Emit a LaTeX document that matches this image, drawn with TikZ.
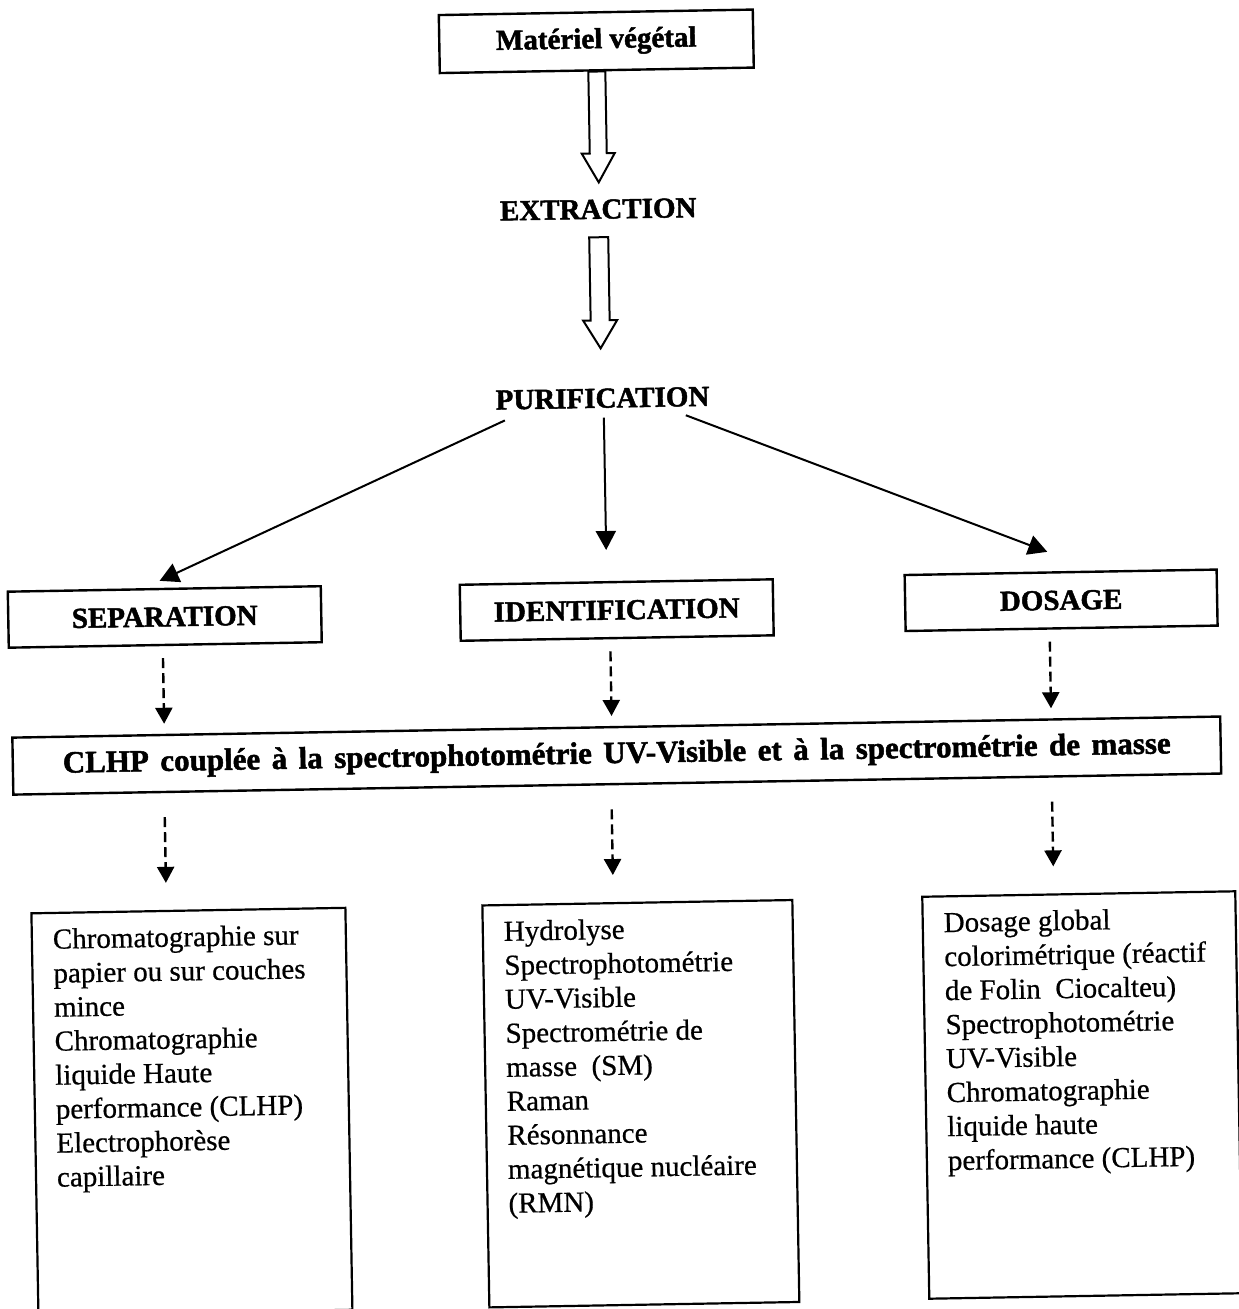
\documentclass[tikz,border=0pt]{standalone}
\usepackage{fontspec}
\setmainfont{Liberation Serif}[FakeBold=0.6, BoldFeatures={FakeBold=1.6}]
\usetikzlibrary{arrows.meta,calc}
\begin{document}
\begin{tikzpicture}[x=1pt,y=-1pt,
  boxb/.style={draw, line width=2.4pt, inner sep=0pt, minimum height=56pt,
    font=\bfseries\fontsize{29}{34}\selectfont},
  lbl/.style={inner sep=0pt, font=\bfseries\fontsize{29}{34}\selectfont},
  listbox/.style={draw, line width=2.2pt, inner xsep=21pt, inner ysep=12pt,
    font=\fontsize{29}{34}\selectfont},
  arr/.style={line width=2pt, -{Triangle[length=19pt,width=20pt]}},
  dasharr/.style={line width=2.4pt, dash pattern=on 10pt off 5pt,
    -{Triangle[length=16pt,width=17pt]}},
  hollow/.style={draw, line width=2pt, line join=miter}]
\newcommand\hollowarr[5]{%
  \draw[hollow] let \p1=#1, \p2=#2 in
    (\x1-#3,\y1) -- (\x1-#3,\y2+#5) -- (\x1-#4,\y2+#5) -- (\x1,\y2)
    -- (\x1+#4,\y2+#5) -- (\x1+#3,\y2+#5) -- (\x1+#3,\y1) -- cycle;}
\fill[white] (0,0) rectangle (1239,1309);
\useasboundingbox (0,0) rectangle (1239,1309);
\begin{scope}
\clip (0,0) rectangle (1239,1309);
\begin{scope}[transform canvas={rotate around={1:(620,655)}}]
  % top part
  \node[boxb, minimum width=314pt, minimum height=58pt] (mat) at (607,41) {Matériel végétal};
  \node[lbl] (ext) at (606,209) {EXTRACTION};
  \node[lbl] (pur) at (607,398) {PURIFICATION};
  \hollowarr{(mat.south)}{([yshift=17pt]ext.north)}{8.5pt}{16.5pt}{29pt}
  \hollowarr{([yshift=-18pt]ext.south)}{([yshift=40pt]pur.north)}{9.5pt}{17pt}{28pt}
  % second row
  \node[boxb, minimum width=313pt] (sep) at (165.5,609) {SEPARATION};
  \node[boxb, minimum width=313pt] (ide) at (617.5,610) {IDENTIFICATION};
  \node[boxb, minimum width=312pt] (dos) at (1062,608) {DOSAGE};
  \draw[arr] ([xshift=-98pt,yshift=-10.5pt]pur.south) -- ([xshift=-4.5pt,yshift=7pt]sep.north);
  \draw[arr] ([xshift=1pt,yshift=-9.5pt]pur.south) -- ([xshift=-9.5pt,yshift=31pt]ide.north);
  \draw[arr] ([xshift=83pt,yshift=-8.5pt]pur.south) -- ([xshift=-13pt,yshift=19.5pt]dos.north);
  % CLHP
  \node[boxb, minimum width=1208pt, minimum height=57pt, font=\bfseries\fontsize{31}{34}\selectfont]
    (clhp) at (615,755.5)
    {\makebox[1108pt][s]{CLHP couplée à la spectrophotométrie UV-Visible et à la spectrométrie de masse}};
  \draw[dasharr] ($(sep.south)+(-2.5,12)$) -- ($(sep.south |- clhp.north)+(-2.5,-10)$);
  \draw[dasharr] ($(ide.south)+(-7,12)$) -- ($(ide.south |- clhp.north)+(-7,-10)$);
  \draw[dasharr] ($(dos.south)+(-12,12)$) -- ($(dos.south |- clhp.north)+(-12,-10)$);
  % bottom boxes
  \node[listbox] (b1) at (184,1104) {\parbox[t][378pt][t]{272pt}{\raggedright\strut
    Chromatographie sur\\ papier ou sur couches\\ mince\\ Chromatographie\\
    liquide Haute\\ performance (CLHP)\\ Electrophorèse\\ capillaire}};
  \node[listbox] (b2) at (633,1104) {\parbox[t][378pt][t]{268pt}{\raggedright\strut
    Hydrolyse\\ Spectrophotométrie\\ UV-Visible\\ Spectrométrie de\\
    masse\ \ (SM)\\ Raman\\ Résonnance\\ magnétique nucléaire\\ (RMN)}};
  \node[listbox] (b3) at (1074.5,1103) {\parbox[t][378pt][t]{271pt}{\raggedright\strut
    Dosage global\\ colorimétrique (réactif\\ de Folin\ \ Ciocalteu)\\ Spectrophotométrie\\
    UV-Visible\\ Chromatographie\\ liquide haute\\ performance (CLHP)}};
  \draw[dasharr] ($(clhp.south -| b1.north)+(-22,24)$) -- ($(b1.north)+(-22,-27)$);
  \draw[dasharr] ($(clhp.south -| b2.north)+(-24,24)$) -- ($(b2.north)+(-24,-27)$);
  \draw[dasharr] ($(clhp.south -| b3.north)+(-25,24)$) -- ($(b3.north)+(-25,-27)$);
\end{scope}
\end{scope}
\end{tikzpicture}
\end{document}
